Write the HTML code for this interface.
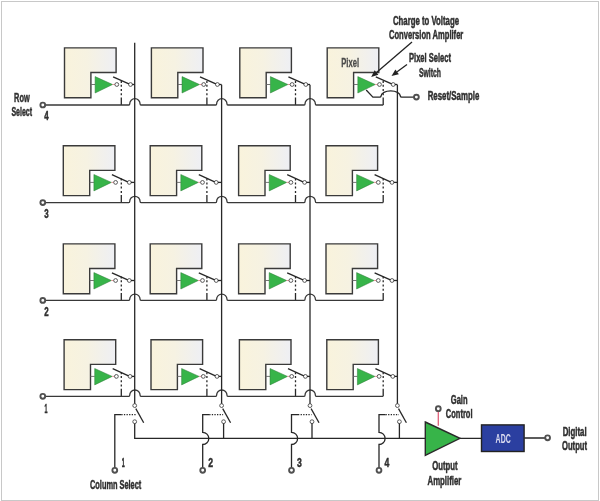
<!DOCTYPE html>
<html><head><meta charset="utf-8"><style>
html,body{margin:0;padding:0;background:#fff;}
body{width:600px;height:501px;overflow:hidden;position:relative;}
svg{position:absolute;left:0;top:0;will-change:transform;}
text{font-family:"Liberation Sans",sans-serif;}
</style></head><body>
<svg width="600" height="501" viewBox="0 0 600 501">
<defs><linearGradient id="g" x1="0" y1="0" x2="1" y2="0">
<stop offset="0" stop-color="#f9f3dc"/><stop offset="0.45" stop-color="#f6f2e2"/><stop offset="1" stop-color="#eeeff4"/></linearGradient></defs>
<rect x="1.5" y="1.5" width="597" height="499" fill="#fff" stroke="#c8c8c8" stroke-width="1"/>
<path d="M64.5 47.9H116.1V72.5H90.9V97.7H64.5Z" fill="url(#g)" stroke="#3a3a3a" stroke-width="1.4"/>
<path d="M90.9 84.5H95.1" stroke="#666" stroke-width="0.9"/>
<path d="M95.1 76.6L112.6 84.5L95.1 93Z" fill="#37b449" stroke="#2c7a36" stroke-width="0.5"/>
<path d="M112.6 84.5H115.1" stroke="#e07a80" stroke-width="0.8"/>
<circle cx="116.8" cy="84.5" r="1.9" fill="#fff" stroke="#4a4a4a" stroke-width="0.9"/>
<circle cx="130.5" cy="84.5" r="1.9" fill="#fff" stroke="#4a4a4a" stroke-width="0.9"/>
<path d="M113.1 76.8L128.9 83.9" stroke="#272727" stroke-width="1.3"/>
<path d="M132.2 84.5H134.7" stroke="#272727" stroke-width="1.3"/>
<path d="M121.3 81V83M121.3 84.8V86.8M121.3 89V91M121.3 93.3V95.3M121.3 97.5V105" stroke="#272727" stroke-width="1.3"/>
<path d="M151.4 47.9H203V72.5H177.8V97.7H151.4Z" fill="url(#g)" stroke="#3a3a3a" stroke-width="1.4"/>
<path d="M177.8 84.5H182" stroke="#666" stroke-width="0.9"/>
<path d="M182 76.6L199.5 84.5L182 93Z" fill="#37b449" stroke="#2c7a36" stroke-width="0.5"/>
<path d="M199.5 84.5H202" stroke="#e07a80" stroke-width="0.8"/>
<circle cx="203.7" cy="84.5" r="1.9" fill="#fff" stroke="#4a4a4a" stroke-width="0.9"/>
<circle cx="217.4" cy="84.5" r="1.9" fill="#fff" stroke="#4a4a4a" stroke-width="0.9"/>
<path d="M200 76.8L215.8 83.9" stroke="#272727" stroke-width="1.3"/>
<path d="M219.1 84.5H221.6" stroke="#272727" stroke-width="1.3"/>
<path d="M206.9 81V83M206.9 84.8V86.8M206.9 89V91M206.9 93.3V95.3M206.9 97.5V105" stroke="#272727" stroke-width="1.3"/>
<path d="M239.8 47.9H291.4V72.5H266.2V97.7H239.8Z" fill="url(#g)" stroke="#3a3a3a" stroke-width="1.4"/>
<path d="M266.2 84.5H270.4" stroke="#666" stroke-width="0.9"/>
<path d="M270.4 76.6L287.9 84.5L270.4 93Z" fill="#37b449" stroke="#2c7a36" stroke-width="0.5"/>
<path d="M287.9 84.5H290.4" stroke="#e07a80" stroke-width="0.8"/>
<circle cx="292.1" cy="84.5" r="1.9" fill="#fff" stroke="#4a4a4a" stroke-width="0.9"/>
<circle cx="305.8" cy="84.5" r="1.9" fill="#fff" stroke="#4a4a4a" stroke-width="0.9"/>
<path d="M288.4 76.8L304.2 83.9" stroke="#272727" stroke-width="1.3"/>
<path d="M307.5 84.5H310" stroke="#272727" stroke-width="1.3"/>
<path d="M295.5 81V83M295.5 84.8V86.8M295.5 89V91M295.5 93.3V95.3M295.5 97.5V105" stroke="#272727" stroke-width="1.3"/>
<path d="M327.2 47.9H378.8V72.5H353.6V97.7H327.2Z" fill="url(#g)" stroke="#3a3a3a" stroke-width="1.4"/>
<path d="M353.6 84.5H357.8" stroke="#666" stroke-width="0.9"/>
<path d="M357.8 76.6L375.3 84.5L357.8 93Z" fill="#37b449" stroke="#2c7a36" stroke-width="0.5"/>
<path d="M375.3 84.5H377.8" stroke="#e07a80" stroke-width="0.8"/>
<circle cx="379.5" cy="84.5" r="1.9" fill="#fff" stroke="#4a4a4a" stroke-width="0.9"/>
<circle cx="393.2" cy="84.5" r="1.9" fill="#fff" stroke="#4a4a4a" stroke-width="0.9"/>
<path d="M375.8 76.8L391.6 83.9" stroke="#272727" stroke-width="1.3"/>
<path d="M394.9 84.5H397.4" stroke="#272727" stroke-width="1.3"/>
<path d="M383.2 81V83M383.2 84.8V86.8M383.2 89V91M383.2 93.3V95.3M383.2 97.5V105" stroke="#272727" stroke-width="1.3"/>
<path d="M45.2 105H128.8Q129.7 105 129.7 103.9A5.2 5.2 0 0 1 140.1 103.9Q140.1 105 141 105H215.7Q216.6 105 216.6 103.9A5.2 5.2 0 0 1 227 103.9Q227 105 227.9 105H304.1Q305 105 305 103.9A5.2 5.2 0 0 1 315.4 103.9Q315.4 105 316.3 105H383.2" fill="none" stroke="#383838" stroke-width="1.3"/>
<circle cx="42.8" cy="105" r="2.4" fill="#fff" stroke="#505050" stroke-width="1.9"/>
<path d="M63.3 145.8H114.9V170.4H89.7V195.6H63.3Z" fill="url(#g)" stroke="#3a3a3a" stroke-width="1.4"/>
<path d="M89.7 182.4H93.9" stroke="#666" stroke-width="0.9"/>
<path d="M93.9 174.5L111.4 182.4L93.9 190.9Z" fill="#37b449" stroke="#2c7a36" stroke-width="0.5"/>
<path d="M111.4 182.4H113.9" stroke="#e07a80" stroke-width="0.8"/>
<circle cx="115.6" cy="182.4" r="1.9" fill="#fff" stroke="#4a4a4a" stroke-width="0.9"/>
<circle cx="129.3" cy="182.4" r="1.9" fill="#fff" stroke="#4a4a4a" stroke-width="0.9"/>
<path d="M111.9 174.7L127.7 181.8" stroke="#272727" stroke-width="1.3"/>
<path d="M131 182.4H134.7" stroke="#272727" stroke-width="1.3"/>
<path d="M121.3 178.6V180.6M121.3 182.4V184.4M121.3 186.6V188.6M121.3 190.9V192.9M121.3 195.1V202.6" stroke="#272727" stroke-width="1.3"/>
<path d="M150.2 145.8H201.8V170.4H176.6V195.6H150.2Z" fill="url(#g)" stroke="#3a3a3a" stroke-width="1.4"/>
<path d="M176.6 182.4H180.8" stroke="#666" stroke-width="0.9"/>
<path d="M180.8 174.5L198.3 182.4L180.8 190.9Z" fill="#37b449" stroke="#2c7a36" stroke-width="0.5"/>
<path d="M198.3 182.4H200.8" stroke="#e07a80" stroke-width="0.8"/>
<circle cx="202.5" cy="182.4" r="1.9" fill="#fff" stroke="#4a4a4a" stroke-width="0.9"/>
<circle cx="216.2" cy="182.4" r="1.9" fill="#fff" stroke="#4a4a4a" stroke-width="0.9"/>
<path d="M198.8 174.7L214.6 181.8" stroke="#272727" stroke-width="1.3"/>
<path d="M217.9 182.4H221.6" stroke="#272727" stroke-width="1.3"/>
<path d="M206.9 178.6V180.6M206.9 182.4V184.4M206.9 186.6V188.6M206.9 190.9V192.9M206.9 195.1V202.6" stroke="#272727" stroke-width="1.3"/>
<path d="M238.6 145.8H290.2V170.4H265V195.6H238.6Z" fill="url(#g)" stroke="#3a3a3a" stroke-width="1.4"/>
<path d="M265 182.4H269.2" stroke="#666" stroke-width="0.9"/>
<path d="M269.2 174.5L286.7 182.4L269.2 190.9Z" fill="#37b449" stroke="#2c7a36" stroke-width="0.5"/>
<path d="M286.7 182.4H289.2" stroke="#e07a80" stroke-width="0.8"/>
<circle cx="290.9" cy="182.4" r="1.9" fill="#fff" stroke="#4a4a4a" stroke-width="0.9"/>
<circle cx="304.6" cy="182.4" r="1.9" fill="#fff" stroke="#4a4a4a" stroke-width="0.9"/>
<path d="M287.2 174.7L303 181.8" stroke="#272727" stroke-width="1.3"/>
<path d="M306.3 182.4H310" stroke="#272727" stroke-width="1.3"/>
<path d="M295.5 178.6V180.6M295.5 182.4V184.4M295.5 186.6V188.6M295.5 190.9V192.9M295.5 195.1V202.6" stroke="#272727" stroke-width="1.3"/>
<path d="M326 145.8H377.6V170.4H352.4V195.6H326Z" fill="url(#g)" stroke="#3a3a3a" stroke-width="1.4"/>
<path d="M352.4 182.4H356.6" stroke="#666" stroke-width="0.9"/>
<path d="M356.6 174.5L374.1 182.4L356.6 190.9Z" fill="#37b449" stroke="#2c7a36" stroke-width="0.5"/>
<path d="M374.1 182.4H376.6" stroke="#e07a80" stroke-width="0.8"/>
<circle cx="378.3" cy="182.4" r="1.9" fill="#fff" stroke="#4a4a4a" stroke-width="0.9"/>
<circle cx="392" cy="182.4" r="1.9" fill="#fff" stroke="#4a4a4a" stroke-width="0.9"/>
<path d="M374.6 174.7L390.4 181.8" stroke="#272727" stroke-width="1.3"/>
<path d="M393.7 182.4H397.4" stroke="#272727" stroke-width="1.3"/>
<path d="M383.2 178.6V180.6M383.2 182.4V184.4M383.2 186.6V188.6M383.2 190.9V192.9M383.2 195.1V202.6" stroke="#272727" stroke-width="1.3"/>
<path d="M45.2 202.6H128.8Q129.7 202.6 129.7 201.5A5.2 5.2 0 0 1 140.1 201.5Q140.1 202.6 141 202.6H215.7Q216.6 202.6 216.6 201.5A5.2 5.2 0 0 1 227 201.5Q227 202.6 227.9 202.6H304.1Q305 202.6 305 201.5A5.2 5.2 0 0 1 315.4 201.5Q315.4 202.6 316.3 202.6H383.2" fill="none" stroke="#383838" stroke-width="1.3"/>
<circle cx="42.8" cy="202.6" r="2.4" fill="#fff" stroke="#505050" stroke-width="1.9"/>
<path d="M63.3 243.9H114.9V268.5H89.7V293.7H63.3Z" fill="url(#g)" stroke="#3a3a3a" stroke-width="1.4"/>
<path d="M89.7 280.5H93.9" stroke="#666" stroke-width="0.9"/>
<path d="M93.9 272.6L111.4 280.5L93.9 289Z" fill="#37b449" stroke="#2c7a36" stroke-width="0.5"/>
<path d="M111.4 280.5H113.9" stroke="#e07a80" stroke-width="0.8"/>
<circle cx="115.6" cy="280.5" r="1.9" fill="#fff" stroke="#4a4a4a" stroke-width="0.9"/>
<circle cx="129.3" cy="280.5" r="1.9" fill="#fff" stroke="#4a4a4a" stroke-width="0.9"/>
<path d="M111.9 272.8L127.7 279.9" stroke="#272727" stroke-width="1.3"/>
<path d="M131 280.5H134.7" stroke="#272727" stroke-width="1.3"/>
<path d="M121.3 276.4V278.4M121.3 280.2V282.2M121.3 284.4V286.4M121.3 288.7V290.7M121.3 292.9V300.4" stroke="#272727" stroke-width="1.3"/>
<path d="M150.2 243.9H201.8V268.5H176.6V293.7H150.2Z" fill="url(#g)" stroke="#3a3a3a" stroke-width="1.4"/>
<path d="M176.6 280.5H180.8" stroke="#666" stroke-width="0.9"/>
<path d="M180.8 272.6L198.3 280.5L180.8 289Z" fill="#37b449" stroke="#2c7a36" stroke-width="0.5"/>
<path d="M198.3 280.5H200.8" stroke="#e07a80" stroke-width="0.8"/>
<circle cx="202.5" cy="280.5" r="1.9" fill="#fff" stroke="#4a4a4a" stroke-width="0.9"/>
<circle cx="216.2" cy="280.5" r="1.9" fill="#fff" stroke="#4a4a4a" stroke-width="0.9"/>
<path d="M198.8 272.8L214.6 279.9" stroke="#272727" stroke-width="1.3"/>
<path d="M217.9 280.5H221.6" stroke="#272727" stroke-width="1.3"/>
<path d="M206.9 276.4V278.4M206.9 280.2V282.2M206.9 284.4V286.4M206.9 288.7V290.7M206.9 292.9V300.4" stroke="#272727" stroke-width="1.3"/>
<path d="M238.6 243.9H290.2V268.5H265V293.7H238.6Z" fill="url(#g)" stroke="#3a3a3a" stroke-width="1.4"/>
<path d="M265 280.5H269.2" stroke="#666" stroke-width="0.9"/>
<path d="M269.2 272.6L286.7 280.5L269.2 289Z" fill="#37b449" stroke="#2c7a36" stroke-width="0.5"/>
<path d="M286.7 280.5H289.2" stroke="#e07a80" stroke-width="0.8"/>
<circle cx="290.9" cy="280.5" r="1.9" fill="#fff" stroke="#4a4a4a" stroke-width="0.9"/>
<circle cx="304.6" cy="280.5" r="1.9" fill="#fff" stroke="#4a4a4a" stroke-width="0.9"/>
<path d="M287.2 272.8L303 279.9" stroke="#272727" stroke-width="1.3"/>
<path d="M306.3 280.5H310" stroke="#272727" stroke-width="1.3"/>
<path d="M295.5 276.4V278.4M295.5 280.2V282.2M295.5 284.4V286.4M295.5 288.7V290.7M295.5 292.9V300.4" stroke="#272727" stroke-width="1.3"/>
<path d="M326 243.9H377.6V268.5H352.4V293.7H326Z" fill="url(#g)" stroke="#3a3a3a" stroke-width="1.4"/>
<path d="M352.4 280.5H356.6" stroke="#666" stroke-width="0.9"/>
<path d="M356.6 272.6L374.1 280.5L356.6 289Z" fill="#37b449" stroke="#2c7a36" stroke-width="0.5"/>
<path d="M374.1 280.5H376.6" stroke="#e07a80" stroke-width="0.8"/>
<circle cx="378.3" cy="280.5" r="1.9" fill="#fff" stroke="#4a4a4a" stroke-width="0.9"/>
<circle cx="392" cy="280.5" r="1.9" fill="#fff" stroke="#4a4a4a" stroke-width="0.9"/>
<path d="M374.6 272.8L390.4 279.9" stroke="#272727" stroke-width="1.3"/>
<path d="M393.7 280.5H397.4" stroke="#272727" stroke-width="1.3"/>
<path d="M383.2 276.4V278.4M383.2 280.2V282.2M383.2 284.4V286.4M383.2 288.7V290.7M383.2 292.9V300.4" stroke="#272727" stroke-width="1.3"/>
<path d="M45.2 300.4H128.8Q129.7 300.4 129.7 299.3A5.2 5.2 0 0 1 140.1 299.3Q140.1 300.4 141 300.4H215.7Q216.6 300.4 216.6 299.3A5.2 5.2 0 0 1 227 299.3Q227 300.4 227.9 300.4H304.1Q305 300.4 305 299.3A5.2 5.2 0 0 1 315.4 299.3Q315.4 300.4 316.3 300.4H383.2" fill="none" stroke="#383838" stroke-width="1.3"/>
<circle cx="42.8" cy="300.4" r="2.4" fill="#fff" stroke="#505050" stroke-width="1.9"/>
<path d="M64.1 339.8H115.7V364.4H90.5V389.6H64.1Z" fill="url(#g)" stroke="#3a3a3a" stroke-width="1.4"/>
<path d="M90.5 376.4H94.7" stroke="#666" stroke-width="0.9"/>
<path d="M94.7 368.5L112.2 376.4L94.7 384.9Z" fill="#37b449" stroke="#2c7a36" stroke-width="0.5"/>
<path d="M112.2 376.4H114.7" stroke="#e07a80" stroke-width="0.8"/>
<circle cx="116.4" cy="376.4" r="1.9" fill="#fff" stroke="#4a4a4a" stroke-width="0.9"/>
<circle cx="130.1" cy="376.4" r="1.9" fill="#fff" stroke="#4a4a4a" stroke-width="0.9"/>
<path d="M112.7 368.7L128.5 375.8" stroke="#272727" stroke-width="1.3"/>
<path d="M131.8 376.4H134.7" stroke="#272727" stroke-width="1.3"/>
<path d="M121.3 372.3V374.3M121.3 376.1V378.1M121.3 380.3V382.3M121.3 384.6V386.6M121.3 388.8V396.3" stroke="#272727" stroke-width="1.3"/>
<path d="M151 339.8H202.6V364.4H177.4V389.6H151Z" fill="url(#g)" stroke="#3a3a3a" stroke-width="1.4"/>
<path d="M177.4 376.4H181.6" stroke="#666" stroke-width="0.9"/>
<path d="M181.6 368.5L199.1 376.4L181.6 384.9Z" fill="#37b449" stroke="#2c7a36" stroke-width="0.5"/>
<path d="M199.1 376.4H201.6" stroke="#e07a80" stroke-width="0.8"/>
<circle cx="203.3" cy="376.4" r="1.9" fill="#fff" stroke="#4a4a4a" stroke-width="0.9"/>
<circle cx="217" cy="376.4" r="1.9" fill="#fff" stroke="#4a4a4a" stroke-width="0.9"/>
<path d="M199.6 368.7L215.4 375.8" stroke="#272727" stroke-width="1.3"/>
<path d="M218.7 376.4H221.6" stroke="#272727" stroke-width="1.3"/>
<path d="M206.9 372.3V374.3M206.9 376.1V378.1M206.9 380.3V382.3M206.9 384.6V386.6M206.9 388.8V396.3" stroke="#272727" stroke-width="1.3"/>
<path d="M239.4 339.8H291V364.4H265.8V389.6H239.4Z" fill="url(#g)" stroke="#3a3a3a" stroke-width="1.4"/>
<path d="M265.8 376.4H270" stroke="#666" stroke-width="0.9"/>
<path d="M270 368.5L287.5 376.4L270 384.9Z" fill="#37b449" stroke="#2c7a36" stroke-width="0.5"/>
<path d="M287.5 376.4H290" stroke="#e07a80" stroke-width="0.8"/>
<circle cx="291.7" cy="376.4" r="1.9" fill="#fff" stroke="#4a4a4a" stroke-width="0.9"/>
<circle cx="305.4" cy="376.4" r="1.9" fill="#fff" stroke="#4a4a4a" stroke-width="0.9"/>
<path d="M288 368.7L303.8 375.8" stroke="#272727" stroke-width="1.3"/>
<path d="M307.1 376.4H310" stroke="#272727" stroke-width="1.3"/>
<path d="M295.5 372.3V374.3M295.5 376.1V378.1M295.5 380.3V382.3M295.5 384.6V386.6M295.5 388.8V396.3" stroke="#272727" stroke-width="1.3"/>
<path d="M326.8 339.8H378.4V364.4H353.2V389.6H326.8Z" fill="url(#g)" stroke="#3a3a3a" stroke-width="1.4"/>
<path d="M353.2 376.4H357.4" stroke="#666" stroke-width="0.9"/>
<path d="M357.4 368.5L374.9 376.4L357.4 384.9Z" fill="#37b449" stroke="#2c7a36" stroke-width="0.5"/>
<path d="M374.9 376.4H377.4" stroke="#e07a80" stroke-width="0.8"/>
<circle cx="379.1" cy="376.4" r="1.9" fill="#fff" stroke="#4a4a4a" stroke-width="0.9"/>
<circle cx="392.8" cy="376.4" r="1.9" fill="#fff" stroke="#4a4a4a" stroke-width="0.9"/>
<path d="M375.4 368.7L391.2 375.8" stroke="#272727" stroke-width="1.3"/>
<path d="M394.5 376.4H397.4" stroke="#272727" stroke-width="1.3"/>
<path d="M383.2 372.3V374.3M383.2 376.1V378.1M383.2 380.3V382.3M383.2 384.6V386.6M383.2 388.8V396.3" stroke="#272727" stroke-width="1.3"/>
<path d="M45.2 396.3H128.8Q129.7 396.3 129.7 395.2A5.2 5.2 0 0 1 140.1 395.2Q140.1 396.3 141 396.3H215.7Q216.6 396.3 216.6 395.2A5.2 5.2 0 0 1 227 395.2Q227 396.3 227.9 396.3H304.1Q305 396.3 305 395.2A5.2 5.2 0 0 1 315.4 395.2Q315.4 396.3 316.3 396.3H383.2" fill="none" stroke="#383838" stroke-width="1.3"/>
<circle cx="42.8" cy="396.3" r="2.4" fill="#fff" stroke="#505050" stroke-width="1.9"/>
<path d="M134.7 42.7V403.9" stroke="#272727" stroke-width="1.3"/>
<circle cx="134.7" cy="405.6" r="1.9" fill="#fff" stroke="#4a4a4a" stroke-width="0.9"/>
<path d="M135.8 408.6L143.7 422.8" stroke="#272727" stroke-width="1.3"/>
<circle cx="134.7" cy="421.7" r="1.9" fill="#fff" stroke="#4a4a4a" stroke-width="0.9"/>
<path d="M221.6 84.7V403.9" stroke="#272727" stroke-width="1.3"/>
<circle cx="221.6" cy="405.6" r="1.9" fill="#fff" stroke="#4a4a4a" stroke-width="0.9"/>
<path d="M222.7 408.6L230.6 422.8" stroke="#272727" stroke-width="1.3"/>
<circle cx="223.6" cy="421.7" r="1.9" fill="#fff" stroke="#4a4a4a" stroke-width="0.9"/>
<path d="M223.6 423.4V438.3" stroke="#272727" stroke-width="1.3"/>
<path d="M310 84.7V403.9" stroke="#272727" stroke-width="1.3"/>
<circle cx="310" cy="405.6" r="1.9" fill="#fff" stroke="#4a4a4a" stroke-width="0.9"/>
<path d="M311.1 408.6L319 422.8" stroke="#272727" stroke-width="1.3"/>
<circle cx="312" cy="421.7" r="1.9" fill="#fff" stroke="#4a4a4a" stroke-width="0.9"/>
<path d="M312 423.4V438.3" stroke="#272727" stroke-width="1.3"/>
<path d="M397.4 84.7V403.9" stroke="#272727" stroke-width="1.3"/>
<circle cx="397.4" cy="405.6" r="1.9" fill="#fff" stroke="#4a4a4a" stroke-width="0.9"/>
<path d="M398.5 408.6L406.4 422.8" stroke="#272727" stroke-width="1.3"/>
<circle cx="399.4" cy="421.7" r="1.9" fill="#fff" stroke="#4a4a4a" stroke-width="0.9"/>
<path d="M399.4 423.4V438.3" stroke="#272727" stroke-width="1.3"/>
<path d="M114.8 467.9V414.7H121.3" fill="none" stroke="#272727" stroke-width="1.3"/>
<path d="M121.3 414.7H136.2" stroke="#272727" stroke-width="1.2" stroke-dasharray="1.3 1.3"/>
<circle cx="114.8" cy="470.3" r="2.4" fill="#fff" stroke="#505050" stroke-width="1.9"/>
<path d="M202.7 467.9V444.5A6.1 6.1 0 0 0 202.7 432.3V414.7H209.2" fill="none" stroke="#272727" stroke-width="1.3"/>
<path d="M209.2 414.7H223.1" stroke="#272727" stroke-width="1.2" stroke-dasharray="1.3 1.3"/>
<circle cx="202.7" cy="470.3" r="2.4" fill="#fff" stroke="#505050" stroke-width="1.9"/>
<path d="M291.5 467.9V444.5A6.1 6.1 0 0 0 291.5 432.3V414.7H298" fill="none" stroke="#272727" stroke-width="1.3"/>
<path d="M298 414.7H311.5" stroke="#272727" stroke-width="1.2" stroke-dasharray="1.3 1.3"/>
<circle cx="291.5" cy="470.3" r="2.4" fill="#fff" stroke="#505050" stroke-width="1.9"/>
<path d="M379 467.9V444.5A6.1 6.1 0 0 0 379 432.3V414.7H385.5" fill="none" stroke="#272727" stroke-width="1.3"/>
<path d="M385.5 414.7H398.9" stroke="#272727" stroke-width="1.2" stroke-dasharray="1.3 1.3"/>
<circle cx="379" cy="470.3" r="2.4" fill="#fff" stroke="#505050" stroke-width="1.9"/>
<path d="M134.7 423.4V438.3H425" fill="none" stroke="#272727" stroke-width="1.3"/>
<path d="M366.2 90L372.9 97.1H379.8Q380.8 97.1 381.1 96A9.6 5.1 0 0 1 400.3 96Q400.6 97.1 401.6 97.1H414" fill="none" stroke="#272727" stroke-width="1.3"/>
<circle cx="416.4" cy="97.1" r="2.4" fill="#fff" stroke="#505050" stroke-width="1.9"/>
<path d="M412 42L376.51 72.44" stroke="#222" stroke-width="1.3"/>
<path d="M371.2 77L374.62 70.24L378.4 74.64Z" fill="#222"/>
<path d="M407 64.6L397.14 71.85" stroke="#222" stroke-width="1.3"/>
<path d="M391.5 76L395.42 69.52L398.86 74.19Z" fill="#222"/>
<path d="M425.3 422L460 438.3L425.3 455.3Z" fill="#37b449" stroke="#2a2a2a" stroke-width="1.4"/>
<path d="M438.3 411V425.8" stroke="#e0607a" stroke-width="1.3"/>
<circle cx="438.3" cy="408.7" r="2.4" fill="#fff" stroke="#505050" stroke-width="1.9"/>
<path d="M460 438.3H481.5M524.2 438H545.2" stroke="#272727" stroke-width="1.3"/>
<rect x="481.5" y="424.9" width="42.6" height="26.6" fill="#2b3fa0" stroke="#222" stroke-width="1.4"/>
<circle cx="547.6" cy="437.8" r="2.4" fill="#fff" stroke="#505050" stroke-width="1.9"/>
<text x="393" y="24.6" font-size="12.5" font-weight="bold" fill="#2f2f2f" stroke="#2f2f2f" stroke-width="0.5" textLength="66" lengthAdjust="spacingAndGlyphs">Charge to Voltage</text>
<text x="389" y="39" font-size="12.5" font-weight="bold" fill="#2f2f2f" stroke="#2f2f2f" stroke-width="0.5" textLength="74.3" lengthAdjust="spacingAndGlyphs">Conversion Amplifer</text>
<text x="409" y="61.9" font-size="12.5" font-weight="bold" fill="#2f2f2f" stroke="#2f2f2f" stroke-width="0.5" textLength="42" lengthAdjust="spacingAndGlyphs">Pixel Select</text>
<text x="419" y="76.5" font-size="12.5" font-weight="bold" fill="#2f2f2f" stroke="#2f2f2f" stroke-width="0.5" textLength="22" lengthAdjust="spacingAndGlyphs">Switch</text>
<text x="341.3" y="66.6" font-size="12.5" font-weight="bold" fill="#4a4a4a" stroke="#4a4a4a" stroke-width="0.3" textLength="17.7" lengthAdjust="spacingAndGlyphs">Pixel</text>
<text x="427.7" y="100" font-size="12.5" font-weight="bold" fill="#2f2f2f" stroke="#2f2f2f" stroke-width="0.5" textLength="51.6" lengthAdjust="spacingAndGlyphs">Reset/Sample</text>
<text x="14.1" y="101.6" font-size="12.5" font-weight="bold" fill="#2f2f2f" stroke="#2f2f2f" stroke-width="0.5" textLength="15.6" lengthAdjust="spacingAndGlyphs">Row</text>
<text x="11.4" y="115.5" font-size="12.5" font-weight="bold" fill="#2f2f2f" stroke="#2f2f2f" stroke-width="0.5" textLength="20.7" lengthAdjust="spacingAndGlyphs">Select</text>
<text x="450.8" y="404" font-size="12.5" font-weight="bold" fill="#2f2f2f" stroke="#2f2f2f" stroke-width="0.5" textLength="16.7" lengthAdjust="spacingAndGlyphs">Gain</text>
<text x="445.8" y="418.3" font-size="12.5" font-weight="bold" fill="#2f2f2f" stroke="#2f2f2f" stroke-width="0.5" textLength="26.7" lengthAdjust="spacingAndGlyphs">Control</text>
<text x="432.2" y="469.8" font-size="12.5" font-weight="bold" fill="#2f2f2f" stroke="#2f2f2f" stroke-width="0.5" textLength="25.4" lengthAdjust="spacingAndGlyphs">Output</text>
<text x="427.5" y="485" font-size="12.5" font-weight="bold" fill="#2f2f2f" stroke="#2f2f2f" stroke-width="0.5" textLength="33.8" lengthAdjust="spacingAndGlyphs">Amplifier</text>
<text x="495.6" y="443" font-size="12.5" font-weight="bold" fill="#dcdcf0" stroke="#dcdcf0" stroke-width="0" textLength="15.1" lengthAdjust="spacingAndGlyphs">ADC</text>
<text x="562.7" y="436" font-size="12.5" font-weight="bold" fill="#2f2f2f" stroke="#2f2f2f" stroke-width="0.5" textLength="23.9" lengthAdjust="spacingAndGlyphs">Digital</text>
<text x="562" y="450" font-size="12.5" font-weight="bold" fill="#2f2f2f" stroke="#2f2f2f" stroke-width="0.5" textLength="25" lengthAdjust="spacingAndGlyphs">Output</text>
<text x="90" y="489.2" font-size="12.5" font-weight="bold" fill="#2f2f2f" stroke="#2f2f2f" stroke-width="0.5" textLength="51.3" lengthAdjust="spacingAndGlyphs">Column Select</text>
<text x="44.2" y="119.8" font-size="12.5" font-weight="bold" fill="#2f2f2f" stroke="#2f2f2f" stroke-width="0.5" textLength="4.4" lengthAdjust="spacingAndGlyphs">4</text>
<text x="44.2" y="217.6" font-size="12.5" font-weight="bold" fill="#2f2f2f" stroke="#2f2f2f" stroke-width="0.5" textLength="4.4" lengthAdjust="spacingAndGlyphs">3</text>
<text x="44.2" y="315.8" font-size="12.5" font-weight="bold" fill="#2f2f2f" stroke="#2f2f2f" stroke-width="0.5" textLength="4.4" lengthAdjust="spacingAndGlyphs">2</text>
<text x="44.5" y="412.8" font-size="12.5" font-weight="bold" fill="#2f2f2f" stroke="#2f2f2f" stroke-width="0.5" textLength="3" lengthAdjust="spacingAndGlyphs">1</text>
<text x="121.7" y="466.8" font-size="12.5" font-weight="bold" fill="#2f2f2f" stroke="#2f2f2f" stroke-width="0.5" textLength="3" lengthAdjust="spacingAndGlyphs">1</text>
<text x="208.3" y="466.8" font-size="12.5" font-weight="bold" fill="#2f2f2f" stroke="#2f2f2f" stroke-width="0.5" textLength="4.8" lengthAdjust="spacingAndGlyphs">2</text>
<text x="297.1" y="466.8" font-size="12.5" font-weight="bold" fill="#2f2f2f" stroke="#2f2f2f" stroke-width="0.5" textLength="4.8" lengthAdjust="spacingAndGlyphs">3</text>
<text x="384.6" y="466.8" font-size="12.5" font-weight="bold" fill="#2f2f2f" stroke="#2f2f2f" stroke-width="0.5" textLength="4.8" lengthAdjust="spacingAndGlyphs">4</text>
</svg></body></html>
